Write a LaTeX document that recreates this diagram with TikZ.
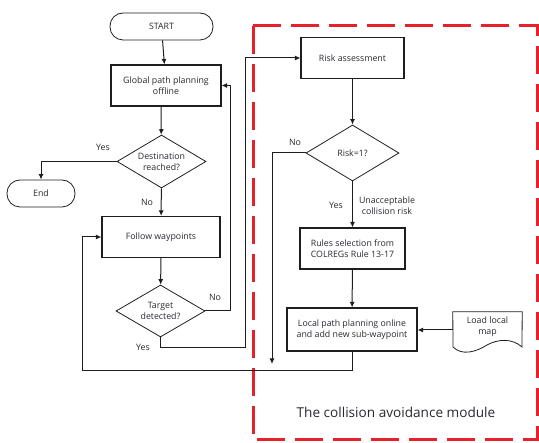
\documentclass[tikz,border=0pt]{standalone}
\usepackage{fontspec}
\setmainfont{Open Sans}
\usepackage{tikz}
\usetikzlibrary{positioning,arrows.meta,shapes.geometric,calc}
\definecolor{caRed}{RGB}{230,33,41}
\definecolor{caInk}{RGB}{40,40,48}
\definecolor{caLine}{RGB}{30,30,30}

\begin{document}
\begin{tikzpicture}[x=1pt,y=-1pt,
  font=\fontsize{8.8}{11}\selectfont, text=caInk,
  box/.style={draw=caLine, line width=1.1pt, minimum height=41pt, align=center, inner sep=1pt},
  term/.style={draw=caLine, line width=0.8pt, rounded corners=13pt, minimum height=27pt},
  decision/.style={draw=caLine, line width=0.8pt, diamond, aspect=1.7, inner sep=0pt, align=center},
  flow/.style={draw=caLine, line width=1pt},
  arr/.style={flow, -{Latex[length=5.5pt,width=5pt]}}]
  \useasboundingbox (0,0) rectangle (539,443);

  % collision avoidance module frame
  \draw[caRed, line width=3pt, dash pattern=on 28pt off 10pt] (253,26) rectangle (537,440);
  \node[font=\fontsize{13.6}{16}\selectfont] (module) at (396,412) {The collision avoidance module};

  % main loop
  \node[term, minimum width=103pt] (start) at (161.5,26.5) {START};
  \node[box, minimum width=110pt] (global) at (166,85.5) {Global path planning\\offline};
  \node[decision, minimum width=89pt, minimum height=53pt] (dest) at (161.5,161.5) {Destination\\reached?};
  \node[term, minimum width=68pt] (end) at (41,193.5) {End};
  \node[box, minimum width=118pt] (follow) at (161,237) {Follow waypoints};
  \node[decision, minimum width=89pt, minimum height=52pt] (target) at (160.5,311) {Target\\detected?};

  % inside the module
  \node[box, minimum width=103pt] (risk) at (352.5,58) {Risk assessment};
  \node[decision, minimum width=93pt, minimum height=56pt] (riskq) at (352.5,153) {Risk=1?};
  \node[box, minimum width=105pt] (rules) at (352.5,248.5) {Rules selection from\\COLREGs Rule 13-17};
  \node[box, minimum width=130pt, minimum height=43pt] (local) at (352,329.5) {Local path planning online\\and add new sub-waypoint};
  \node[minimum width=69pt, minimum height=30pt, align=center] (map) at (487.5,327) {Load local\\map};
  \draw[line width=0.8pt, caLine] (map.north west) -- (map.north east) -- (522,347)
    .. controls (512,338) and (498,339) .. (487,345)
    .. controls (476,352) and (462,356) .. (453,347) -- cycle;

  % connectors
  \draw[arr] (start) -- (global);
  \draw[arr] ($(global.south)+(-5,0)$) -- (dest);
  \draw[arr] (dest.west) -| (end.north);
  \draw[arr] (dest) -- (follow);
  \draw[arr] (follow) -- (target);
  \draw[arr] (target.east) -- (230,311) |- (global.east);
  \draw[arr] (target.south) -- (160.5,348) -- (245.5,348) |- (risk.west);
  \draw[arr] (riskq.west) -- (272,153) -- (272,364);
  \draw[arr] (risk) -- (riskq);
  \draw[arr] (riskq) -- (rules);
  \draw[arr] (rules) -- (local);
  \draw[arr] (map.west |- 0,330) -- (local.east |- 0,330);
  \draw[arr] (local.south) -- (352,371) -- (82,371) |- (follow.west);

  % branch labels
  \node (yesA) at (103,147) {Yes};
  \node (noA) at (147,202) {No};
  \node (noB) at (215,297) {No};
  \node (yesB) at (143,347) {Yes};
  \node (noC) at (295,142) {No};
  \node (yesC) at (336,205) {Yes};
  \node[align=center] (unacc) at (387,206) {Unacceptable\\collision risk};
\end{tikzpicture}
\end{document}
